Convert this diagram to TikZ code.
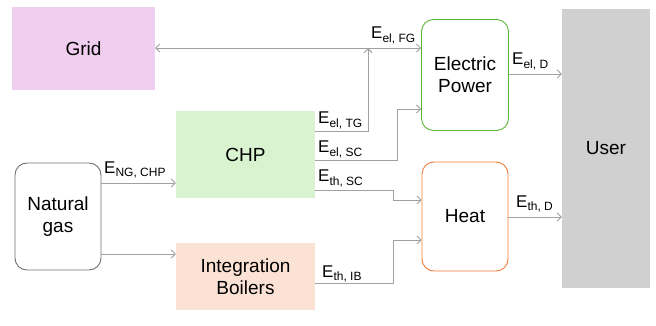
\documentclass[tikz,border=0pt]{standalone}
\usepackage{fontspec}
\setmainfont{Liberation Sans}
\usetikzlibrary{arrows.meta}
\definecolor{gridfill}{HTML}{F0CEEF}
\definecolor{chpfill}{HTML}{D9F2D0}
\definecolor{ibfill}{HTML}{FBE2D5}
\definecolor{userfill}{HTML}{D0D0D0}
\definecolor{epcol}{HTML}{5DB534}
\definecolor{heatcol}{HTML}{F07A3A}
\definecolor{ngcol}{HTML}{707070}
\definecolor{linecol}{HTML}{A0A0A0}
\newcommand{\lbl}[2]{E\raisebox{-0.35ex}{\fontsize{12}{12}\selectfont #2}}
\tikzset{
  box/.style={inner sep=0pt, align=center, font=\fontsize{19}{22}\selectfont},
  rbox/.style={box, draw, rounded corners=12pt, line width=0.9pt},
  flow/.style={draw=linecol, line width=0.9pt, -{Straight Barb[length=4pt,width=8pt]}},
  flowboth/.style={draw=linecol, line width=0.9pt, {Straight Barb[length=4pt,width=8pt]}-{Straight Barb[length=4pt,width=8pt]}},
  lab/.style={anchor=base west, inner sep=0pt, font=\fontsize{17}{17}\selectfont}
}
\begin{document}
\begin{tikzpicture}[x=1pt,y=-1pt]
\useasboundingbox (0,0) rectangle (656,326);
\node[box, fill=gridfill, minimum width=143pt, minimum height=83pt] (grid) at (83.5,48.5) {Grid};
\node[box, fill=chpfill, minimum width=139pt, minimum height=87pt] (chp) at (245.5,154.5) {CHP};
\node[rbox, draw=ngcol, minimum width=86pt, minimum height=107pt] (ng) at (58,216.5) {Natural\\gas};
\node[box, fill=ibfill, minimum width=139pt, minimum height=67pt] (ib) at (245.5,276.5) {Integration\\Boilers};
\node[rbox, draw=epcol, minimum width=87pt, minimum height=111pt] (ep) at (465,75) {Electric\\Power};
\node[rbox, draw=heatcol, minimum width=86pt, minimum height=109pt] (heat) at (465,216.5) {Heat};
\node[box, fill=userfill, minimum width=88pt, minimum height=279pt] (user) at (606,148.5) {User};
\coordinate (tg) at (368,48);
\draw[flowboth] (grid.east |- 0,48) -- (ep.west |- 0,48);
\draw[flow] (chp.east |- 0,131) -| (tg);
\draw[flow] (chp.east |- 0,160) -- (397,160) -- (397,109) -- (ep.west |- 0,109);
\draw[flow] (chp.east |- 0,190) -- (393,190) -- (393,200) -- (heat.west |- 0,200);
\draw[flow] (ib.east |- 0,283) -- (393,283) -- (393,240) -- (heat.west |- 0,240);
\draw[flow] (ng.east |- 0,183) -- (chp.west |- 0,183);
\draw[flow] (ng.east |- 0,254) -- (ib.west |- 0,254);
\draw[flow] (ep.east |- 0,74) -- (user.west |- 0,74);
\draw[flow] (heat.east |- 0,217) -- (user.west |- 0,217);
\node[lab] (lfg) at (371,39) {\lbl{}{el, FG}};
\node[lab] (ltg) at (318,124) {\lbl{}{el, TG}};
\node[lab] (lsc) at (318,153) {\lbl{}{el, SC}};
\node[lab] (lthsc) at (318,182) {\lbl{}{th, SC}};
\node[lab] (lib) at (322,277) {\lbl{}{th, IB}};
\node[lab] (lng) at (104,173) {\lbl{}{NG, CHP}};
\node[lab] (ld) at (512,65) {\lbl{}{el, D}};
\node[lab] (lthd) at (516,207) {\lbl{}{th, D}};
\end{tikzpicture}
\end{document}
